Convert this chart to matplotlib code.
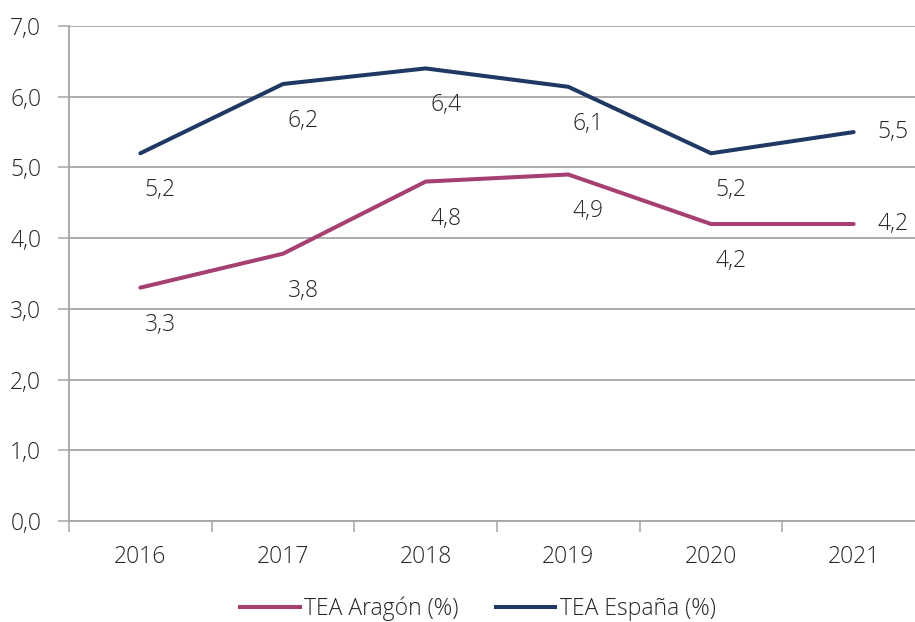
import matplotlib
matplotlib.use("Agg")
import matplotlib.pyplot as plt
from matplotlib.lines import Line2D

years = ["2016", "2017", "2018", "2019", "2020", "2021"]
aragon = [3.3, 3.78, 4.8, 4.9, 4.2, 4.2]
espana = [5.2, 6.18, 6.4, 6.14, 5.2, 5.5]
yticks = [0, 1, 2, 3, 4, 5, 6, 7]
series_names = ["TEA Aragón (%)", "TEA España (%)"]

c_ar = "#A63F72"
c_es = "#1F3864"
grid_c = "#A6A6A6"
txt_c = "#262626"

plt.rcParams['font.family'] = ['Open Sans', 'DejaVu Sans']

fig = plt.figure(figsize=(9.15, 6.22), dpi=100)
ax = fig.add_axes([69/915, 101/622, 856/915, 495/622])

x = list(range(len(years)))
ax.plot(x, aragon, color=c_ar, lw=2.9, solid_capstyle='round', solid_joinstyle='miter')
ax.plot(x, espana, color=c_es, lw=2.9, solid_capstyle='round', solid_joinstyle='miter')

def fmt(v):
    return f"{v:.1f}".replace(".", ",")

fs = 16.5
for series in (aragon, espana):
    for i, v in enumerate(series):
        if i == len(series) - 1:
            off = (39 * 0.72, 0)
        else:
            off = (20 * 0.72, -37 * 0.72)
        ax.annotate(fmt(v), (i, v), xytext=off, textcoords='offset points',
                    ha='center', va='center', fontsize=fs, color=txt_c,
                    fontweight='light')

ax.set_xlim(-0.5, len(years) - 0.5)
ax.set_ylim(0, 7)
ax.set_yticks(yticks)
ax.set_yticklabels([fmt(v) for v in yticks])
ax.yaxis.grid(True, color=grid_c, lw=1.3)
ax.set_axisbelow(True)

ax.set_xticks([i - 0.5 for i in range(len(years) + 1)])
ax.set_xticklabels([])
ax.set_xticks(x, minor=True)
ax.set_xticklabels(years, minor=True)
ax.tick_params(axis='x', which='major', length=8, width=1.1, color=grid_c, direction='out')
ax.tick_params(axis='x', which='minor', length=0, pad=17, labelsize=fs, labelcolor=txt_c)
ax.tick_params(axis='y', length=8, width=1.1, color=grid_c, pad=12, labelsize=fs, labelcolor=txt_c)
for lab in ax.get_xticklabels(minor=True) + ax.get_yticklabels():
    lab.set_fontweight('light')

for s in ['top', 'right']:
    ax.spines[s].set_visible(False)
for s in ['left', 'bottom']:
    ax.spines[s].set_color(grid_c)
    ax.spines[s].set_linewidth(1.3)

handles = [Line2D([], [], color=c_ar, lw=2.9), Line2D([], [], color=c_es, lw=2.9)]
leg = fig.legend(handles, series_names, loc='center', bbox_to_anchor=(478/915, 1 - 609/622),
                 ncol=2, frameon=False, handlelength=2.6, handletextpad=0.2,
                 columnspacing=1.6, prop={'size': fs, 'weight': 'light'})
for t in leg.get_texts():
    t.set_color(txt_c)

fig.savefig("out.png", dpi=100)
